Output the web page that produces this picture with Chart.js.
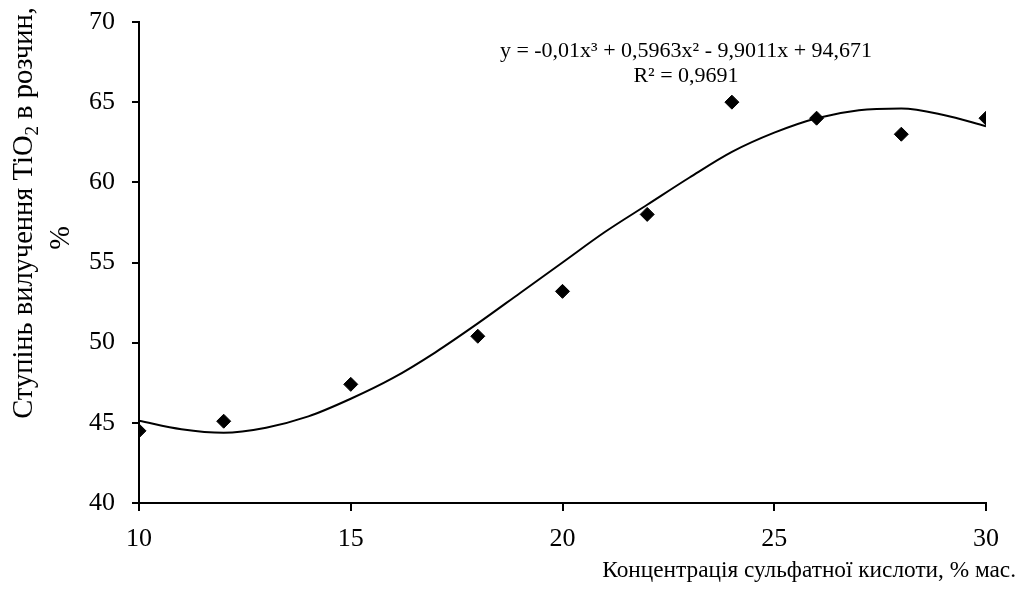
<!DOCTYPE html>
<html>
<head>
<meta charset="utf-8">
<script src="https://cdn.jsdelivr.net/npm/chart.js@4.4.0/dist/chart.umd.min.js"></script>
<style>
  html, body { margin: 0; padding: 0; background: #fff; }
  #wrap { width: 1020px; height: 604px; }
</style>
</head>
<body>
<div id="wrap"><canvas id="chart" width="1020" height="604"></canvas></div>
<script>
// measured points: concentration of H2SO4 (% mass) vs TiO2 extraction (%)
var concentration = [10, 12, 15, 18, 20, 22, 24, 26, 28, 30];
var extraction = [44.5, 45.1, 47.4, 50.4, 53.2, 58, 65, 64, 63, 64];

// polynomial trendline
var trendX = [10, 11, 12, 13, 14, 15, 16, 17, 18, 19, 20, 21, 22, 23, 24, 25, 26, 27, 28, 29, 30];
var trendY = [45.13, 44.6, 44.38, 44.7, 45.4, 46.5, 47.8, 49.4, 51.2, 53.1, 55.0, 56.9, 58.6, 60.3, 61.9, 63.1, 64.0, 64.5, 64.6, 64.2, 63.5];

var xTicks = [10, 15, 20, 25, 30];
var yTicks = [40, 45, 50, 55, 60, 65, 70];

var equationText = 'y = -0,01x³ + 0,5963x² - 9,9011x + 94,671';
var r2Text = 'R² = 0,9691';
var xTitle = 'Концентрація сульфатної кислоти, % мас.';
var yTitleParts = ['Ступінь вилучення TiO', '2', ' в розчин,'];
var yTitleLine2 = '%';

var FONT = "'Liberation Serif', 'Times New Roman', serif";

function toXY(xs, ys) {
  return xs.map(function (x, i) { return { x: x, y: ys[i] }; });
}

// texts outside the axes (titles, trendline label)
var textPlugin = {
  id: 'texts',
  afterDraw: function (chart) {
    var ctx = chart.ctx;
    ctx.save();
    ctx.fillStyle = '#000';

    // trendline equation
    ctx.font = '22px ' + FONT;
    ctx.textAlign = 'center';
    ctx.textBaseline = 'middle';
    ctx.fillText(equationText, 686, 51);
    ctx.fillText(r2Text, 686, 76);

    // x title
    ctx.font = '23.3px ' + FONT;
    ctx.textAlign = 'right';
    ctx.fillText(xTitle, 1016, 571);

    // y title, rotated, with subscript
    ctx.translate(25, 213);
    ctx.rotate(-Math.PI / 2);
    var big = '28.5px ' + FONT, small = '19px ' + FONT;
    ctx.font = big;
    var w0 = ctx.measureText(yTitleParts[0]).width;
    var w2 = ctx.measureText(yTitleParts[2]).width;
    ctx.font = small;
    var w1 = ctx.measureText(yTitleParts[1]).width;
    var total = w0 + w1 + w2;
    var x = -total / 2;
    ctx.textAlign = 'left';
    ctx.font = big;
    ctx.fillText(yTitleParts[0], x, 0);
    ctx.font = small;
    ctx.fillText(yTitleParts[1], x + w0, 8);
    ctx.font = big;
    ctx.fillText(yTitleParts[2], x + w0 + w1, 0);
    ctx.restore();

    ctx.save();
    ctx.fillStyle = '#000';
    ctx.translate(62, 238);
    ctx.rotate(-Math.PI / 2);
    ctx.font = '28.5px ' + FONT;
    ctx.textAlign = 'center';
    ctx.textBaseline = 'middle';
    ctx.fillText(yTitleLine2, 0, 0);
    ctx.restore();
  }
};

var ctx = document.getElementById('chart').getContext('2d');
new Chart(ctx, {
  type: 'scatter',
  data: {
    datasets: [
      {
        label: 'data',
        data: toXY(concentration, extraction),
        pointStyle: 'rectRot',
        pointRadius: 7,
        backgroundColor: '#000',
        borderColor: '#000',
        borderWidth: 1,
        order: 1
      },
      {
        label: 'trend',
        data: toXY(trendX, trendY),
        showLine: true,
        pointRadius: 0,
        borderColor: '#000',
        borderWidth: 2,
        cubicInterpolationMode: 'monotone',
        fill: false,
        order: 2
      }
    ]
  },
  options: {
    responsive: false,
    animation: false,
    events: [],
    layout: { padding: { top: 22, right: 34, left: 0, bottom: 0 } },
    plugins: { legend: { display: false }, tooltip: { enabled: false } },
    scales: {
      x: {
        type: 'linear',
        min: 10,
        max: 30,
        afterFit: function (scale) {
          scale.height = 101;
          scale.paddingLeft = 0;
          scale.paddingRight = 0;
        },
        afterBuildTicks: function (scale) {
          scale.ticks = xTicks.map(function (v) { return { value: v }; });
        },
        grid: { display: true, drawOnChartArea: false, drawTicks: true, tickLength: 8, color: '#000', lineWidth: 2 },
        border: { display: true, color: '#000', width: 2 },
        ticks: { color: '#000', font: { family: FONT, size: 26 }, padding: 13, maxRotation: 0 }
      },
      y: {
        type: 'linear',
        min: 40,
        max: 70,
        afterFit: function (scale) {
          scale.width = 139;
          scale.paddingTop = 0;
          scale.paddingBottom = 0;
        },
        afterBuildTicks: function (scale) {
          scale.ticks = yTicks.map(function (v) { return { value: v }; });
        },
        grid: { display: true, drawOnChartArea: false, drawTicks: true, tickLength: 7, color: '#000', lineWidth: 2 },
        border: { display: true, color: '#000', width: 2 },
        ticks: { color: '#000', font: { family: FONT, size: 26 }, padding: 17 }
      }
    }
  },
  plugins: [textPlugin]
});
</script>
</body>
</html>
